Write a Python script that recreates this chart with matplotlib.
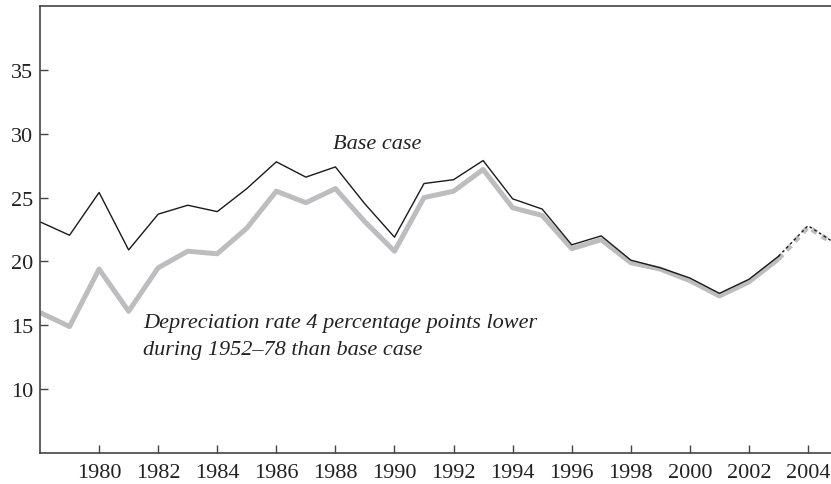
import matplotlib.pyplot as plt
import matplotlib

matplotlib.rcParams['font.family'] = ['Liberation Serif', 'DejaVu Serif']
matplotlib.rcParams['font.size'] = 16

years = list(range(1978, 2006))
base = [23.1, 22.05, 25.4, 20.9, 23.7, 24.4, 23.9, 25.7, 27.8, 26.6, 27.4, 24.5, 21.9, 26.1,
        26.4, 27.9, 24.9, 24.1, 21.3, 22.0, 20.1, 19.5, 18.7, 17.5, 18.6, 20.4, 22.8, 21.3]
lower = [16.0, 14.9, 19.4, 16.1, 19.5, 20.8, 20.6, 22.6, 25.5, 24.6, 25.7, 23.1, 20.8, 25.0,
         25.5, 27.2, 24.2, 23.6, 21.0, 21.7, 19.9, 19.4, 18.5, 17.3, 18.4, 20.2, 22.7, 21.2]
split = 2003  # projected values after this year are dotted
xticks = list(range(1980, 2005, 2))
yticks = [10, 15, 20, 25, 30, 35]

fig = plt.figure(figsize=(8.31, 4.85), dpi=100)
ax = fig.add_axes([40 / 831, 31 / 485, 1.0, 447 / 485])

k = years.index(split) + 1
ax.plot(years[:k], lower[:k], color='#bdbdbf', lw=3.6, solid_capstyle='butt')
ax.plot(years[k - 1:], lower[k - 1:], color='#bdbdbf', lw=3.6, ls=(0, (1.2, 1.2)))
ax.plot(years[:k], base[:k], color='#1a1a1a', lw=1.0)
ax.plot(years[k - 1:], base[k - 1:], color='#1a1a1a', lw=1.0, ls=(0, (2, 2)))

ax.text(1987.92, 29.2, 'Base case', style='italic', va='center', ha='left', color='#222222')
ax.text(1981.49, 15.2, 'Depreciation rate 4 percentage points lower', style='italic',
        va='center', ha='left', color='#222222')
ax.text(1981.49, 13.1, 'during 1952\u201378 than base case', style='italic',
        va='center', ha='left', color='#222222')

ax.set_xlim(1978, 1978 + 831 / 29.54)
ax.set_ylim(5, 40)
ax.set_xticks(xticks)
ax.set_yticks(yticks)
ax.spines['right'].set_visible(False)
for s in ['left', 'bottom', 'top']:
    ax.spines[s].set_color('#444444')
    ax.spines[s].set_linewidth(1.2)
ax.tick_params(direction='in', length=6, width=1, color='#444444', labelcolor='#222222')
ax.tick_params(axis='x', pad=7)
ax.tick_params(axis='y', pad=5)

fig.savefig('out.png', dpi=100)
